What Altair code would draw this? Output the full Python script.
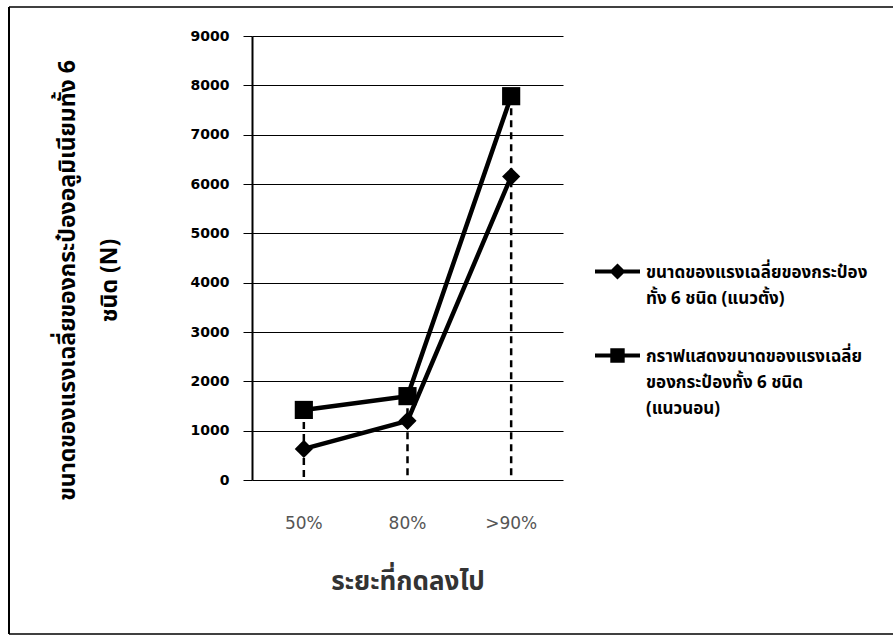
import altair as alt
import pandas as pd

categories = ["50%", "80%", ">90%"]
series_names = [
    "ขนาดของแรงเฉลี่ยของกระป๋อง|ทั้ง 6 ชนิด (แนวตั้ง)",
    "กราฟแสดงขนาดของแรงเฉลี่ย|ของกระป๋องทั้ง 6 ชนิด|(แนวนอน)",
]
vertical_values = [630, 1200, 6150]
horizontal_values = [1420, 1700, 7780]
y_ticks = [0, 1000, 2000, 3000, 4000, 5000, 6000, 7000, 8000, 9000]

rows = []
for c, v in zip(categories, vertical_values):
    rows.append({"cat": c, "series": series_names[0], "value": v})
for c, v in zip(categories, horizontal_values):
    rows.append({"cat": c, "series": series_names[1], "value": v})
df = pd.DataFrame(rows)

THAI = "Noto Sans Thai, Noto Sans, DejaVu Sans, sans-serif"

x_enc = alt.X(
    "cat:N",
    sort=categories,
    scale=alt.Scale(domain=categories, paddingInner=0, paddingOuter=0),
    axis=alt.Axis(
        title="ระยะที่กดลงไป",
        labelAngle=0,
        ticks=False,
        domain=False,
        grid=False,
        labelFont="DejaVu Sans",
        labelFontSize=17,
        labelColor="#555555",
        labelPadding=35,
        titleFont=THAI,
        titleFontSize=26,
        titleFontWeight="bold",
        titleColor="#333333",
        titlePadding=37,
    ),
)
y_enc = alt.Y(
    "value:Q",
    scale=alt.Scale(domain=[0, 9000], nice=False),
    axis=alt.Axis(
        values=y_ticks,
        format="d",
        title=["ขนาดของแรงเฉลี่ยของกระป๋องอลูมิเนียมทั้ง 6", "ชนิด (N)"],
        titleFont=THAI,
        titleFontSize=23,
        titleFontWeight="bold",
        titleColor="black",
        titleLineHeight=42,
        titleX=-178,
        titleY=244,
        titleAlign="center",
        titleBaseline="alphabetic",
        labelFont="DejaVu Sans",
        labelFontSize=14,
        labelFontWeight="bold",
        labelColor="black",
        labelPadding=14,
        tickSize=9,
        tickColor="black",
        domainColor="black",
        domainWidth=2,
        gridColor="black",
        gridWidth=1,
    ),
)

base = alt.Chart(df)

drops = base.mark_rule(color="black", strokeWidth=2.5, strokeDash=[7, 5]).encode(
    x=x_enc, y="max(value):Q", y2=alt.datum(0)
)

lines = base.mark_line(color="black", strokeWidth=4.5).encode(
    x=x_enc, y=y_enc, detail="series:N"
)

points = base.mark_point(filled=True, color="black", opacity=1).encode(
    x=x_enc,
    y=y_enc,
    shape=alt.Shape(
        "series:N",
        scale=alt.Scale(domain=series_names, range=["diamond", "square"]),
        legend=None,
    ),
    size=alt.value(330),
)

leg_diamond = "M-1,0.22H1V0.40H-1Z M0,-0.05L0.36,0.31L0,0.67L-0.36,0.31Z"
leg_square = "M-1,0.22H1V0.40H-1Z M-0.32,-0.01H0.32V0.63H-0.32Z"

legend_layer = base.transform_filter("false").mark_point(
    filled=True, color="black", opacity=1
).encode(
    x=x_enc,
    y=y_enc,
    shape=alt.Shape(
        "series:N",
        scale=alt.Scale(domain=series_names, range=[leg_diamond, leg_square]),
        legend=alt.Legend(
            title=None,
            orient="none",
            legendX=343,
            legendY=206,
            symbolSize=2025,
            symbolFillColor="black",
            symbolStrokeWidth=0,
            labelExpr="split(datum.label, '|')",
            labelFont=THAI,
            labelFontSize=17,
            labelFontWeight="bold",
            labelColor="black",
            labelBaseline="top",
            labelLimit=400,
            labelOffset=6,
            rowPadding=19,
        ),
    ),
)

one = alt.Data(values=[{}])
frame_top = alt.Chart(one).mark_rule(color="black", strokeWidth=1.5).encode(
    x=alt.value(-243), x2=alt.value(700), y=alt.value(-29)
)
frame_left = alt.Chart(one).mark_rule(color="black", strokeWidth=2).encode(
    x=alt.value(-243), y=alt.value(-29), y2=alt.value(598)
)
frame_bottom = alt.Chart(one).mark_rule(color="black", strokeWidth=1.5).encode(
    x=alt.value(-243), x2=alt.value(700), y=alt.value(598)
)

chart = (
    alt.layer(frame_top, frame_left, frame_bottom, drops, lines, points, legend_layer)
    .resolve_scale(shape="independent")
    .properties(
        width=311,
        height=444,
        autosize=alt.AutoSizeParams(type="none"),
        padding={"left": 252, "top": 36, "right": 330, "bottom": 157},
        background="white",
    )
)
chart = chart.configure(
    style={"guide-label": {"lineHeight": 26}},
    view=alt.ViewConfig(strokeWidth=0),
)

chart.save("out.html", embed_options={"renderer": "svg", "actions": False})
